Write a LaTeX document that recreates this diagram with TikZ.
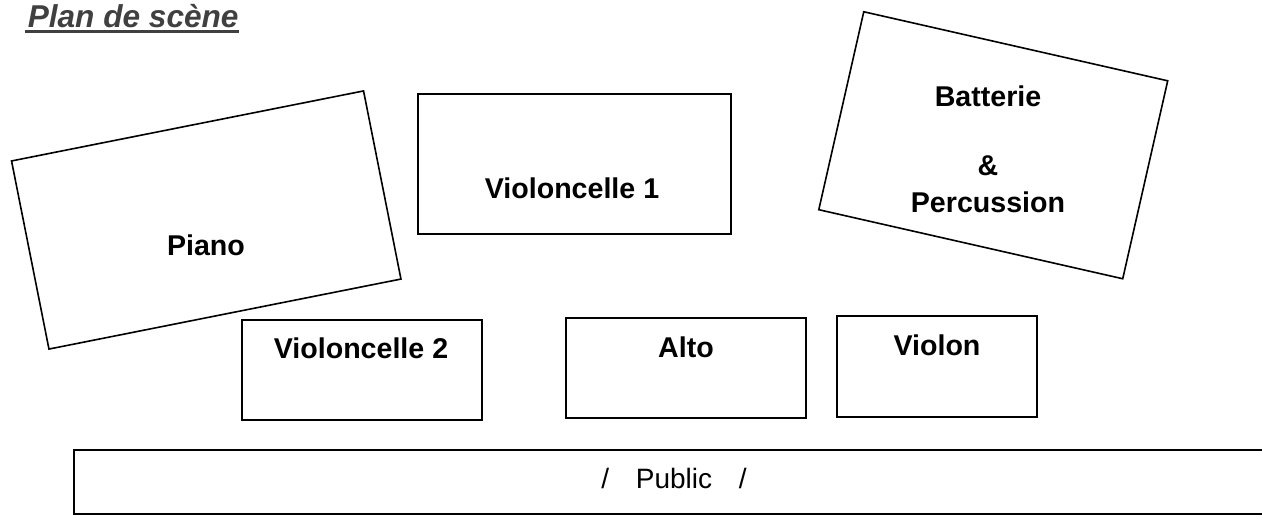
\documentclass[tikz,border=0pt]{standalone}
\usepackage{fontspec}
\setmainfont{Liberation Sans}
\definecolor{titlegray}{RGB}{64,64,64}

\begin{document}
\begin{tikzpicture}[x=1pt,y=-1pt, line width=1.6pt]
  \tikzset{lbl/.style={font=\fontsize{28.6}{34}\selectfont\bfseries, inner sep=0pt, anchor=base}}
  \useasboundingbox (0,0) rectangle (1262,515);

  %title
  \node[anchor=base west, inner sep=0pt, text=titlegray, font=\fontsize{31.6}{38}\selectfont\bfseries\itshape] (titre) at (27,27) {Plan de scène};
  \draw[titlegray, line width=3pt] ([xshift=-2pt,yshift=-4.5pt]titre.base west) -- ([yshift=-4.5pt]titre.base east);

  %tilted boxes
  \node[draw, rotate=11.25, minimum width=358.9pt, minimum height=191.8pt, inner sep=0pt] (piano) at (206.25,220) {};
  \node[draw, rotate=-12.8, minimum width=311.7pt, minimum height=203pt, inner sep=0pt] (batterie) at (993.25,145.25) {};

  %upright boxes
  \foreach \xa/\ya/\xb/\yb in {418/94/731/234, 242/320/482/420, 566/318/806/418, 837/316/1037/417}{
    \draw (\xa,\ya) rectangle (\xb,\yb);
  }

  %labels
  \foreach \x/\y/\txt/\name in {206/255/Piano/tpiano, 572/198/Violoncelle 1/tvc1, 361/358/Violoncelle 2/tvc2,
      686/357/Alto/talto, 937/355/Violon/tviolon, 988/106/Batterie/tbatt, 988/175/\&/tand, 988/212/Percussion/tperc}{
    \node[lbl] (\name) at (\x,\y) {\txt};
  }

  %public
  \draw (1262,450) -- (74,450) -- (74,515);
  \draw (74,514.2) -- (1262,514.2);
  \node[font=\fontsize{28}{34}\selectfont, inner sep=0pt, anchor=base] (public) at (674,488) {/\hspace{26.7pt}Public\hspace{26.7pt}/};
\end{tikzpicture}
\end{document}
